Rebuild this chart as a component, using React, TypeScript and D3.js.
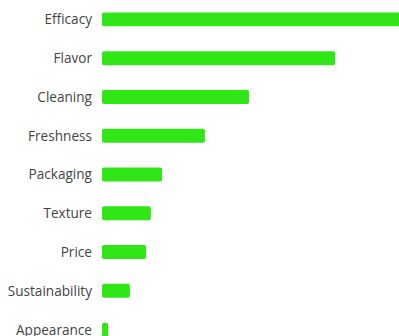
import React from "react";
import * as d3 from "d3";

const categories = ["Efficacy", "Flavor", "Cleaning", "Freshness", "Packaging", "Texture", "Price", "Sustainability", "Appearance"];
const values = [100, 77.7, 49, 34.3, 20, 16.3, 14.7, 9.3, 2];

const W = 399;
const H = 336;

export default function App() {
  const x = d3.scaleLinear().domain([0, 100]).range([102, 402]);
  const y = d3.scaleBand().domain(categories).range([0, 349]).paddingInner(0.64).paddingOuter(0.32);
  return (
    <div style={{ position: "absolute", left: 0, top: 0 }}>
      <svg width={W} height={H} style={{ display: "block", background: "#fff" }}>
        {categories.map((c, i) => {
          const yy = y(c) as number;
          const bw = y.bandwidth();
          return (
            <g key={c}>
              <rect x={x(0)} y={yy} width={x(values[i]) - x(0)} height={bw} rx={2} fill="#30e617" />
              <text x={92} y={yy + bw / 2} dy="0.36em" textAnchor="end" fontFamily="'Open Sans', sans-serif" fontSize={13.6} fill="#444">
                {c}
              </text>
            </g>
          );
        })}
      </svg>
    </div>
  );
}
